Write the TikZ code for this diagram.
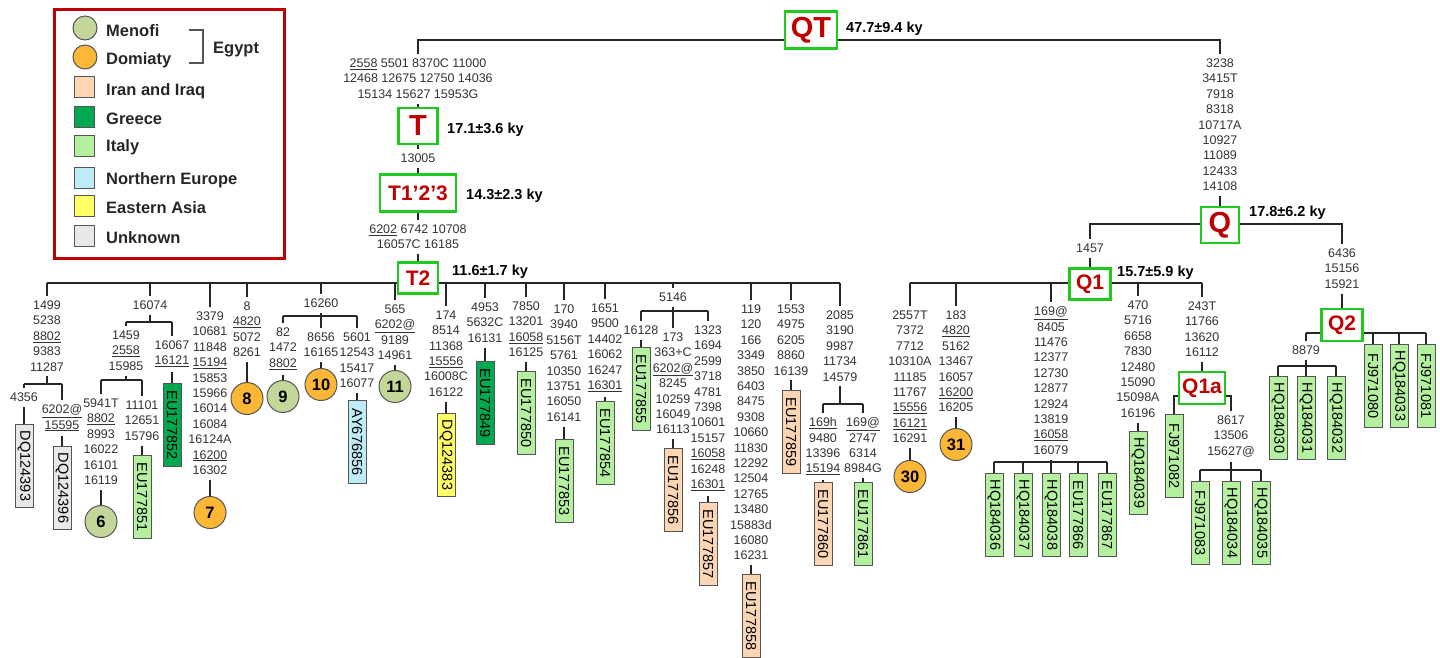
\documentclass[tikz,border=0pt]{standalone}
\usepackage{fontspec}
\setmainfont{Liberation Sans}
\usepackage{tikz}
\usetikzlibrary{backgrounds}
\definecolor{linedark}{HTML}{262626}
\definecolor{mutgray}{HTML}{333333}
\definecolor{boxgray}{HTML}{555555}
\definecolor{hggreen}{HTML}{1FC91F}
\definecolor{hgred}{HTML}{C00000}
\definecolor{legred}{HTML}{C00000}
\definecolor{menofi}{HTML}{C4D79B}
\definecolor{domiaty}{HTML}{FBB735}
\definecolor{iraniraq}{HTML}{FCD5B5}
\definecolor{greece}{HTML}{00A850}
\definecolor{italy}{HTML}{B5F0A0}
\definecolor{northeu}{HTML}{BDEBF8}
\definecolor{eastasia}{HTML}{FFFF66}
\definecolor{unknown}{HTML}{E8E8E8}
\newcommand{\uln}[1]{\underline{#1}}

\begin{document}
\begin{tikzpicture}[x=1pt,y=-1pt,
  branch/.style={draw=linedark,line width=1.8pt},
  mut/.style={anchor=north,align=center,inner xsep=1pt,inner ysep=5pt,text=mutgray,
    font=\fontsize{12.5}{15.4}\selectfont},
  leaf/.style={draw=boxgray,line width=1pt,rotate=-90,anchor=west,minimum width=83pt,
    minimum height=18pt,inner sep=1pt,font=\fontsize{14.5}{14.5}\selectfont},
  hap/.style={circle,draw=boxgray,line width=1pt,minimum size=32pt,inner sep=0pt,
    anchor=north,font=\bfseries\fontsize{16.5}{16.5}\selectfont},
  hg/.style={draw=hggreen,line width=2.5pt,fill=white,text=hgred,inner sep=0pt,
    font=\bfseries\fontsize{21}{21}\selectfont},
  hgbig/.style={hg,font=\bfseries\fontsize{29}{29}\selectfont},
  age/.style={anchor=base west,inner sep=0pt,font=\bfseries\fontsize{14.5}{14.5}\selectfont},
  legtext/.style={anchor=base west,inner sep=0pt,text=black!85,
    font=\bfseries\fontsize{16.5}{16.5}\selectfont},
  swatch/.style={draw=boxgray,line width=1pt,minimum width=20pt,minimum height=21pt,inner sep=0pt}]
  \useasboundingbox (0,0) rectangle (1440,657);

  % legend
  \node[draw=legred,line width=2.5pt,minimum width=230pt,minimum height=249pt,
    anchor=north west] (legend) at (53,8) {};
  \node[hap,anchor=center,minimum size=24pt,fill=menofi] (kmen) at (85,28) {};
  \node[legtext] (tmen) at (106,36) {Menofi};
  \node[hap,anchor=center,minimum size=24pt,fill=domiaty] (kdom) at (85,57) {};
  \node[legtext] (tdom) at (106,64) {Domiaty};
  \draw[boxgray,line width=1.5pt] (189,30) -| (203,63) -- (189,63);
  \node[legtext] (tegy) at (213,53) {Egypt};
  \foreach \col/\lab/\yy/\bb in {iraniraq/Iran and Iraq/87/95, greece/Greece/117/124,
      italy/Italy/146/151, northeu/Northern Europe/178/184,
      eastasia/Eastern Asia/206/213, unknown/Unknown/236/243} {
    \node[swatch,fill=\col] (k\col) at (84,\yy) {};
    \node[legtext] (t\col) at (106,\bb) {\lab};
  }

  % clade boxes and ages
  \node[hgbig,minimum width=52pt,minimum height=37pt] (QT) at (811,30) {QT};
  \node[age] (aQT) at (846,32) {47.7±9.4 ky};
  \node[mut] (mT) at (418,53.5) {\uln{2558} 5501 8370C 11000\\12468 12675 12750 14036\\15134 15627 15953G};
  \node[hgbig,minimum width=39pt,minimum height=36pt] (T) at (418,126) {T};
  \node[age] (aT) at (447,133) {17.1±3.6 ky};
  \node[mut] (mT1) at (418,148.5) {13005};
  \node[hg,minimum width=76pt,minimum height=37pt] (T123) at (418,193) {T1’2’3};
  \node[age] (aT123) at (466,199.5) {14.3±2.3 ky};
  \node[mut] (mT2) at (418,219.5) {\uln{6202} 6742 10708\\16057C 16185};
  \node[hg,minimum width=40pt,minimum height=31pt] (T2) at (418,278) {T2};
  \node[age] (aT2) at (452,275) {11.6±1.7 ky};

  % T2 subclades
  \node[mut] (m1) at (47,295.5) {1499\\5238\\\uln{8802}\\9383\\11287};
  \node[mut] (m1a) at (24,387.5) {4356};
  \node[mut] (m1b) at (62,399.5) {\uln{6202@}\\\uln{15595}};
  \node[leaf,fill=unknown] (DQ124393) at (24,424) {DQ124393};
  \node[leaf,fill=unknown] (DQ124396) at (62,446) {DQ124396};
  \node[mut] (m2) at (150,295.5) {16074};
  \node[mut] (m2a) at (126,325.5) {1459\\\uln{2558}\\15985};
  \node[mut] (m2b) at (172,335.5) {16067\\\uln{16121}};
  \node[mut] (m2c) at (101,393.5) {5941T\\\uln{8802}\\8993\\16022\\16101\\16119};
  \node[mut] (m2d) at (142,395.5) {11101\\12651\\15796};
  \node[hap,fill=menofi] (h6) at (101,505) {6};
  \node[leaf,fill=italy] (EU177851) at (142,455) {EU177851};
  \node[leaf,fill=greece] (EU177852) at (172,383) {EU177852};
  \node[mut] (m3) at (210,306.5) {3379\\10681\\11848\\\uln{15194}\\15853\\15966\\16014\\16084\\16124A\\\uln{16200}\\16302};
  \node[hap,fill=domiaty] (h7) at (210,496) {7};
  \node[mut] (m4) at (247,296.5) {8\\\uln{4820}\\5072\\8261};
  \node[hap,fill=domiaty] (h8) at (247,382) {8};
  \node[mut] (m5) at (321,293.5) {16260};
  \node[mut] (m5a) at (283,322.5) {82\\1472\\\uln{8802}};
  \node[mut] (m5b) at (321,327.5) {8656\\16165};
  \node[mut] (m5c) at (357,327.5) {5601\\12543\\15417\\16077};
  \node[hap,fill=menofi] (h9) at (283,380) {9};
  \node[hap,fill=domiaty] (h10) at (321,368) {10};
  \node[leaf,fill=northeu] (AY676856) at (357,400) {AY676856};
  \node[mut] (m6) at (395,299.5) {565\\\uln{6202@}\\9189\\14961};
  \node[hap,fill=menofi] (h11) at (395,370) {11};
  \node[mut] (m7) at (446,305.5) {174\\8514\\11368\\\uln{15556}\\16008C\\16122};
  \node[leaf,fill=eastasia] (DQ124383) at (446,413) {DQ124383};
  \node[mut] (m8) at (485,297.5) {4953\\5632C\\16131};
  \node[leaf,fill=greece] (EU177849) at (485,361) {EU177849};
  \node[mut] (m9) at (526,296.5) {7850\\13201\\\uln{16058}\\16125};
  \node[leaf,fill=italy] (EU177850) at (526,371) {EU177850};
  \node[mut] (m10) at (564,299.5) {170\\3940\\5156T\\5761\\10350\\13751\\16050\\16141};
  \node[leaf,fill=italy] (EU177853) at (564,439) {EU177853};
  \node[mut] (m11) at (605,298.5) {1651\\9500\\14402\\16062\\16247\\\uln{16301}};
  \node[leaf,fill=italy] (EU177854) at (605,401) {EU177854};
  \node[mut] (m12) at (673,287.5) {5146};
  \node[mut] (m12a) at (641,320.5) {16128};
  \node[mut] (m12b) at (673,327.5) {173\\363+C\\\uln{6202@}\\8245\\10259\\16049\\16113};
  \node[mut] (m12c) at (708,320.5) {1323\\1694\\2599\\3718\\4781\\7398\\10601\\15157\\\uln{16058}\\16248\\\uln{16301}};
  \node[leaf,fill=italy] (EU177855) at (641,347) {EU177855};
  \node[leaf,fill=iraniraq] (EU177856) at (673,448) {EU177856};
  \node[leaf,fill=iraniraq] (EU177857) at (708,502) {EU177857};
  \node[mut] (m13) at (751,299.5) {119\\120\\166\\3349\\3850\\6403\\8475\\9308\\10660\\11830\\12292\\12504\\12765\\13480\\15883d\\16080\\16231};
  \node[leaf,fill=iraniraq] (EU177858) at (751,574) {EU177858};
  \node[mut] (m14) at (791,299.5) {1553\\4975\\6205\\8860\\16139};
  \node[leaf,fill=iraniraq] (EU177859) at (791,390) {EU177859};
  \node[mut] (m15) at (840,305.5) {2085\\3190\\9987\\11734\\14579};
  \node[mut] (m15a) at (823,412.5) {\uln{169h}\\9480\\13396\\\uln{15194}};
  \node[mut] (m15b) at (863,412.5) {\uln{169@}\\2747\\6314\\8984G};
  \node[leaf,fill=iraniraq] (EU177860) at (823,482) {EU177860};
  \node[leaf,fill=italy] (EU177861) at (863,482) {EU177861};

  % Q side
  \node[mut] (mQ) at (1220,53.5) {3238\\3415T\\7918\\8318\\10717A\\10927\\11089\\12433\\14108};
  \node[hgbig,minimum width=38pt,minimum height=36pt] (Q) at (1220,225) {Q};
  \node[age] (aQ) at (1249,216) {17.8±6.2 ky};
  \node[mut] (mQ1) at (1090,238.5) {1457};
  \node[hg,minimum width=41pt,minimum height=31pt] (Q1) at (1090,284) {Q1};
  \node[age] (aQ1) at (1117,276) {15.7±5.9 ky};
  \node[mut] (mQ2) at (1342,243.5) {6436\\15156\\15921};
  \node[hg,minimum width=41pt,minimum height=32pt] (Q2) at (1342,325) {Q2};
  \node[mut] (n1) at (910,305.5) {2557T\\7372\\7712\\10310A\\11185\\11767\\\uln{15556}\\\uln{16121}\\16291};
  \node[hap,fill=domiaty] (h30) at (910,460) {30};
  \node[mut] (n2) at (956,305.5) {183\\\uln{4820}\\5162\\13467\\16057\\\uln{16200}\\16205};
  \node[hap,fill=domiaty] (h31) at (956,428) {31};
  \node[mut] (n3) at (1051,301.5) {\uln{169@}\\8405\\11476\\12377\\12730\\12877\\12924\\13819\\\uln{16058}\\16079};
  \foreach \nm/\xx in {HQ184036/994,HQ184037/1023,HQ184038/1051,EU177866/1078,EU177867/1107}
    \node[leaf,fill=italy] (\nm) at (\xx,473) {\nm};
  \node[mut] (n4) at (1138,295.5) {470\\5716\\6658\\7830\\12480\\15090\\15098A\\16196};
  \node[leaf,fill=italy] (HQ184039) at (1138,431) {HQ184039};
  \node[mut] (n5) at (1202,296.5) {243T\\11766\\13620\\16112};
  \node[hg,minimum width=46pt,minimum height=32pt] (Q1a) at (1202,388) {Q1a};
  \node[leaf,fill=italy] (FJ971082) at (1174,414) {FJ971082};
  \node[mut] (n6) at (1231,410.5) {8617\\13506\\15627@};
  \foreach \nm/\xx in {FJ971083/1200,HQ184034/1231,HQ184035/1261}
    \node[leaf,fill=italy] (\nm) at (\xx,481) {\nm};
  \node[mut] (p1) at (1306,340.5) {8879};
  \foreach \nm/\xx in {HQ184030/1278,HQ184031/1306,HQ184032/1336}
    \node[leaf,fill=italy] (\nm) at (\xx,376) {\nm};
  \foreach \nm/\xx in {FJ971080/1373,HQ184033/1399,FJ971081/1426}
    \node[leaf,fill=italy] (\nm) at (\xx,344) {\nm};

  % branches
  \begin{scope}[on background layer]
    \coordinate (bQT) at (0,40);
    \coordinate (bT2) at (0,283);
    \coordinate (b1) at (0,384);
    \coordinate (b2) at (0,322);
    \coordinate (b2a) at (0,380);
    \coordinate (b5) at (0,316);
    \coordinate (b12) at (0,311);
    \coordinate (b15) at (0,404);
    \coordinate (bQ) at (0,224);
    \coordinate (bQ1) at (0,283);
    \coordinate (bQ1c) at (0,462);
    \coordinate (bQ1a) at (0,396);
    \coordinate (bQ1b) at (0,470);
    \coordinate (bQ2) at (0,333);
    \coordinate (bQ2a) at (0,366);
    \draw[branch] (mT.north) -- (mT.north |- bQT) -- (mQ.north |- bQT) -- (mQ.north);
    \draw[branch] (mT.south) -- (T.north);
    \draw[branch] (T.south) -- (mT1.north);
    \draw[branch] (mT1.south) -- (T123.north);
    \draw[branch] (T123.south) -- (mT2.north);
    \draw[branch] (mT2.south) -- (T2.north);
    \draw[branch] (m1.north |- bT2) -- (m15.north |- bT2);
    \foreach \c in {m1,m2,m3,m4,m5,m6,m7,m8,m9,m10,m11,m12,m13,m14,m15}
      \draw[branch] (\c.north |- bT2) -- (\c.north);
    % splits below T2
    \draw[branch] (m1.south) -- (m1.south |- b1);
    \draw[branch] (m1a.north |- b1) -- (m1b.north |- b1);
    \draw[branch] (m2.south) -- (m2.south |- b2);
    \draw[branch] (m2a.north |- b2) -- (m2b.north |- b2);
    \draw[branch] (m2a.south) -- (m2a.south |- b2a);
    \draw[branch] (m2c.north |- b2a) -- (m2d.north |- b2a);
    \draw[branch] (m5a.north |- b5) -- (m5c.north |- b5);
    \draw[branch] (m12a.north |- b12) -- (m12c.north |- b12);
    \draw[branch] (m15.south) -- (m15.south |- b15);
    \draw[branch] (m15a.north |- b15) -- (m15b.north |- b15);
    \foreach \c/\b in {m1a/b1,m1b/b1,m2a/b2,m2b/b2,m2c/b2a,m2d/b2a,m5a/b5,m5b/b5,m5c/b5,
        m12a/b12,m12b/b12,m12c/b12,m15a/b15,m15b/b15}
      \draw[branch] (\c.north |- \b) -- (\c.north);
    \draw[branch] (m5.south) -- (m5b.north);
    \draw[branch] (m12.south) -- (m12b.north);
    \foreach \c/\t in {m1a/DQ124393,m1b/DQ124396,m2b/EU177852,m2d/EU177851,m5c/AY676856,
        m7/DQ124383,m8/EU177849,m9/EU177850,m10/EU177853,m11/EU177854,m12a/EU177855,
        m12b/EU177856,m12c/EU177857,m13/EU177858,m14/EU177859,m15a/EU177860,m15b/EU177861,
        n4/HQ184039}
      \draw[branch] (\c.south) -- (\t.west);
    \foreach \c/\t in {m2c/h6,m3/h7,m4/h8,m5a/h9,m5b/h10,m6/h11,n1/h30,n2/h31}
      \draw[branch] (\c.south) -- (\t.north);
    % Q
    \draw[branch] (mQ.south) -- (Q.north);
    \draw[branch] (mQ1.north) -- (mQ1.north |- bQ) -- (mQ2.north |- bQ) -- (mQ2.north);
    \draw[branch] (mQ1.south) -- (Q1.north);
    \draw[branch] (mQ2.south) -- (Q2.north);
    \draw[branch] (n1.north |- bQ1) -- (n5.north |- bQ1);
    \foreach \c in {n1,n2,n3,n4,n5}
      \draw[branch] (\c.north |- bQ1) -- (\c.north);
    \draw[branch] (n3.south) -- (n3.south |- bQ1c);
    \draw[branch] (HQ184036.west |- bQ1c) -- (EU177867.west |- bQ1c);
    \foreach \t in {HQ184036,HQ184037,HQ184038,EU177866,EU177867}
      \draw[branch] (\t.west |- bQ1c) -- (\t.west);
    \draw[branch] (n5.south) -- (Q1a.north);
    \draw[branch] (FJ971082.west) -- (FJ971082.west |- bQ1a) -- (n6.north |- bQ1a) -- (n6.north);
    \draw[branch] (n6.south) -- (n6.south |- bQ1b);
    \draw[branch] (FJ971083.west |- bQ1b) -- (HQ184035.west |- bQ1b);
    \foreach \t in {FJ971083,HQ184034,HQ184035}
      \draw[branch] (\t.west |- bQ1b) -- (\t.west);
    \draw[branch] (p1.north |- bQ2) -- (FJ971081.west |- bQ2);
    \draw[branch] (p1.north |- bQ2) -- (p1.north);
    \foreach \t in {FJ971080,HQ184033,FJ971081}
      \draw[branch] (\t.west |- bQ2) -- (\t.west);
    \draw[branch] (p1.south) -- (p1.south |- bQ2a);
    \draw[branch] (HQ184030.west |- bQ2a) -- (HQ184032.west |- bQ2a);
    \foreach \t in {HQ184030,HQ184031,HQ184032}
      \draw[branch] (\t.west |- bQ2a) -- (\t.west);
  \end{scope}
\end{tikzpicture}
\end{document}
